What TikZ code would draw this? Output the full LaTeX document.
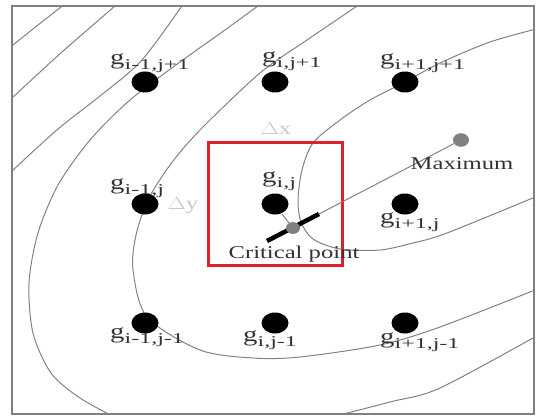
\documentclass[tikz,border=0pt]{standalone}
\usepackage{fontspec}
\setmainfont{Liberation Serif}
\usepackage{tikz}
\usetikzlibrary{shapes.geometric,positioning}
\definecolor{boxred}{RGB}{222,32,44}
\definecolor{contourgray}{RGB}{130,130,130}
\definecolor{textgray}{RGB}{50,50,50}
\definecolor{deltagray}{RGB}{200,200,200}
\definecolor{pointgray}{RGB}{128,128,128}
\newcommand{\stretchtxt}[1]{\scalebox{1.37}[1]{#1}}
\newcommand{\gname}[1]{\scalebox{1.37}[1]{\fontsize{21}{21}\selectfont g}\raisebox{-5pt}{\scalebox{1.6}[1]{\fontsize{15}{15}\selectfont #1}}}

\begin{document}
\begin{tikzpicture}[x=1pt, y=-1pt, font=\fontsize{18}{18}\selectfont,
    gridpt/.style={ellipse, fill=black, minimum width=27pt, minimum height=21pt, inner sep=0pt},
    graypt/.style={ellipse, fill=pointgray, minimum width=#1, minimum height=0.85*#1, inner sep=0pt},
    glabel/.style={text=textgray, inner sep=0pt, anchor=base west},
    contour/.style={draw=contourgray, line width=1pt}]

\useasboundingbox (0,0) rectangle (537,417);

% contour lines
\begin{scope}
\clip (12,6) rectangle (534,414);
\draw[contour] plot[smooth] coordinates {(0,55) (13,45) (38,25) (70,0)};
\draw[contour] plot[smooth] coordinates {(0,108) (13,97) (62,52) (122,0)};
\draw[contour] plot[smooth] coordinates {(0,182) (13,170) (58,129) (100,96) (142,60) (186,0)};
\draw[contour] plot[smooth] coordinates {(266,0) (225,30) (180,62) (130,100) (90,140) (58,185)
    (38,233) (29,283) (33,333) (51,373) (80,398) (120,420)};
\draw[contour] plot[smooth] coordinates {(320,420) (390,402) (440,388) (540,334)};
\draw[contour] plot[smooth] coordinates {(366,0) (307,40) (260,73) (200,130) (170,165) (148,200)
    (136,235) (133,270) (147,317) (200,350) (253,358) (300,357) (380,345) (440,327) (540,288)};
\draw[contour] plot[smooth] coordinates {(540,28) (490,42) (440,63) (405,82) (370,100) (340,120)
    (313,143) (302,170) (298,200) (301,222) (313,239) (340,249) (380,250) (413,243) (447,233) (540,195)};
\end{scope}

% grid points
\node[gridpt] (gmp) at (145,82) {};
\node[gridpt] (gcp) at (275,82) {};
\node[gridpt] (gpp) at (405,82) {};
\node[gridpt] (gmc) at (145,204) {};
\node[gridpt] (gcc) at (275,204) {};
\node[gridpt] (gpc) at (405,204) {};
\node[gridpt] (gmm) at (145,323) {};
\node[gridpt] (gcm) at (275,323) {};
\node[gridpt] (gpm) at (405,323) {};

% grid labels
\node[glabel] (lmp) at (110,65) {\gname{i-1,j+1}};
\node[glabel] (lcp) at (262,63) {\gname{i,j+1}};
\node[glabel] (lpp) at (380,65) {\gname{i+1,j+1}};
\node[glabel] (lmc) at (110,189) {\gname{i-1,j}};
\node[glabel] (lcc) at (262,182) {\gname{i,j}};
\node[glabel] (lpc) at (380,223) {\gname{i+1,j}};
\node[glabel] (lmm) at (110,338) {\gname{i-1,j-1}};
\node[glabel] (lcm) at (243,341) {\gname{i,j-1}};
\node[glabel] (lpm) at (380,343) {\gname{i+1,j-1}};

% spacing marks
\node[text=deltagray, inner sep=0pt] (dx) at (276,129) {\stretchtxt{$\Delta$x}};
\node[text=deltagray, inner sep=0pt] (dy) at (183,206) {\stretchtxt{$\Delta$y}};

% cell around g_{i,j}
\draw[boxred, line width=3pt] (208,142) rectangle (342,265);

% critical point and maximum
\coordinate (barl) at (267,241);
\coordinate (barr) at (319,214);
\draw[contour] (282,214) -- (293,228);
\draw[line width=4.5pt] (barl) -- (barr);
\node[graypt=14pt] (crit) at (293,228) {};
\node[graypt=16pt] (max) at (461,140) {};
\draw[contour] (barr) -- (max);

\node[text=textgray, inner sep=0pt] (maxlbl) at (462,164) {\stretchtxt{Maximum}};
\node[text=textgray, inner sep=0pt] (critlbl) at (294,254) {\stretchtxt{Critical point}};

% frame
\draw[draw=gray, line width=1.6pt] (12,6) rectangle (534,414);
\end{tikzpicture}
\end{document}
